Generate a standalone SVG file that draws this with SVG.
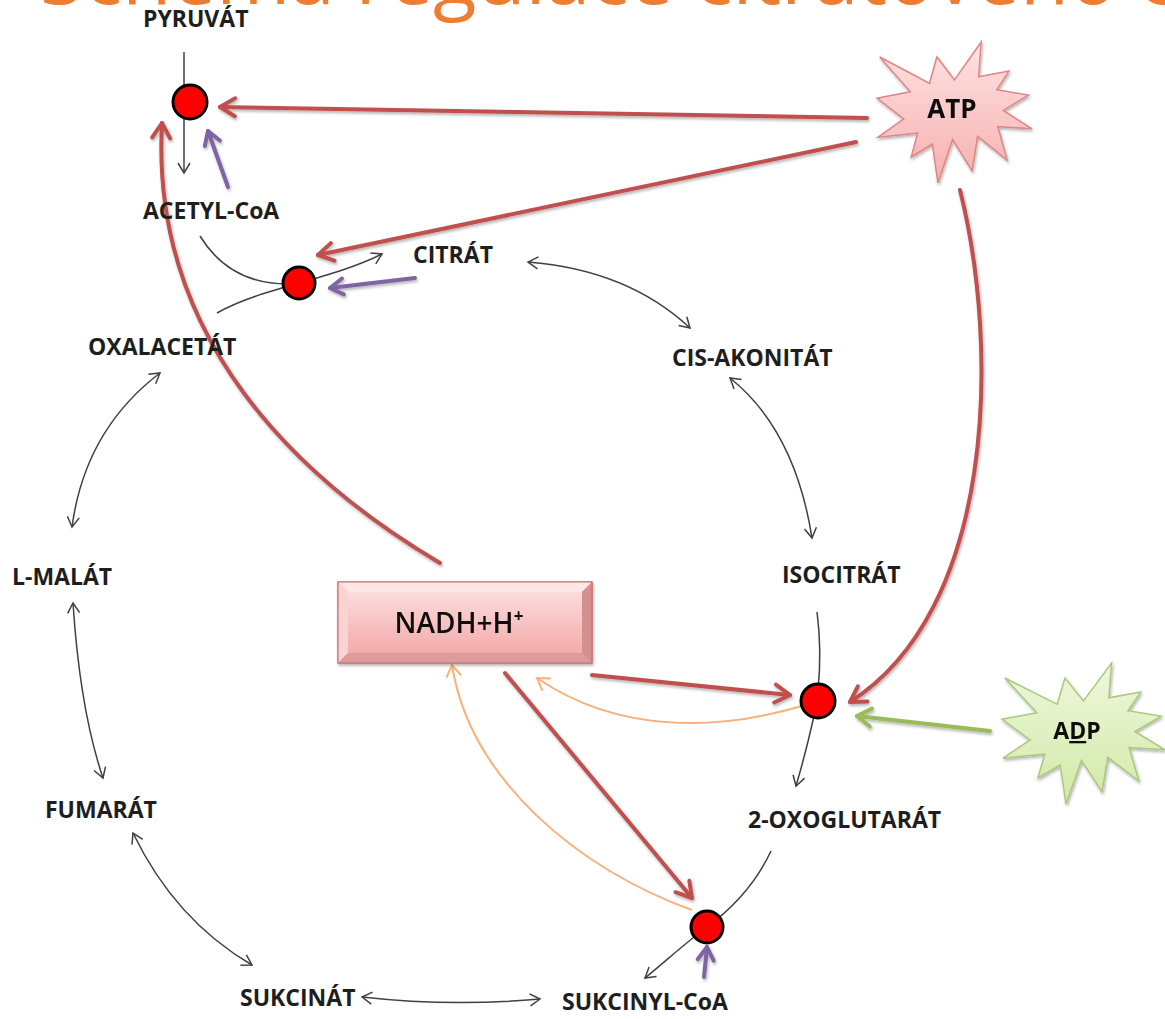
<svg xmlns="http://www.w3.org/2000/svg" width="1165" height="1019" viewBox="0 0 1165 1019">
<style>
.lbl{font-family:"Open Sans","Liberation Sans",sans-serif;font-weight:bold;font-size:23px;fill:#1e1e1e}
.thin{fill:none;stroke:#404040;stroke-width:1.5}
.red{fill:none;stroke:#C0504D;stroke-width:4;stroke-linecap:round}
.pur{fill:none;stroke:#8064A2;stroke-width:4;stroke-linecap:round}
.grn{fill:none;stroke:#9BBB59;stroke-width:4;stroke-linecap:round}
.org{fill:none;stroke:#F9B07A;stroke-width:2}
.enz{fill:#FF0000;stroke:#000;stroke-width:3}
</style>
<defs>
<marker id="ab" viewBox="-12 -8 14 16" refX="0" refY="0" markerWidth="14" markerHeight="16" markerUnits="userSpaceOnUse" orient="auto-start-reverse"><path d="M-10,-6 L0,0 L-10,6" fill="none" stroke="#404040" stroke-width="1.5"/></marker>
<marker id="ar" viewBox="-20 -13 24 26" refX="0" refY="0" markerWidth="24" markerHeight="26" markerUnits="userSpaceOnUse" orient="auto"><path d="M-15,-9 L0,0 L-15,9" fill="none" stroke="#C0504D" stroke-width="4" stroke-linecap="round" stroke-linejoin="round"/></marker>
<marker id="ap" viewBox="-20 -13 24 26" refX="0" refY="0" markerWidth="24" markerHeight="26" markerUnits="userSpaceOnUse" orient="auto"><path d="M-13,-8 L0,0 L-13,8" fill="none" stroke="#8064A2" stroke-width="4" stroke-linecap="round" stroke-linejoin="round"/></marker>
<marker id="ag" viewBox="-20 -13 24 26" refX="0" refY="0" markerWidth="24" markerHeight="26" markerUnits="userSpaceOnUse" orient="auto"><path d="M-14,-9 L0,0 L-14,9" fill="none" stroke="#9BBB59" stroke-width="4" stroke-linecap="round" stroke-linejoin="round"/></marker>
<marker id="ao" viewBox="-14 -9 16 18" refX="0" refY="0" markerWidth="16" markerHeight="18" markerUnits="userSpaceOnUse" orient="auto"><path d="M-11,-7 L0,0 L-11,7" fill="none" stroke="#F9B07A" stroke-width="2" stroke-linecap="round"/></marker>
<filter id="sh" x="-20%" y="-20%" width="140%" height="140%"><feDropShadow dx="1" dy="2" stdDeviation="1.5" flood-color="#000" flood-opacity="0.3"/></filter>
<linearGradient id="gAtp" x1="0" y1="0" x2="0" y2="1"><stop offset="0" stop-color="#FFE3E3"/><stop offset="1" stop-color="#F6AFAF"/></linearGradient>
<linearGradient id="gAdp" x1="0" y1="0" x2="0" y2="1"><stop offset="0" stop-color="#EEF7DC"/><stop offset="1" stop-color="#D2E9A8"/></linearGradient>
<linearGradient id="gBox" x1="0" y1="0" x2="0" y2="1"><stop offset="0" stop-color="#FCDCDC"/><stop offset="1" stop-color="#F3AAAA"/></linearGradient>
</defs>
<rect width="1165" height="1019" fill="#fff"/>
<text x="40" y="4" font-family="Open Sans, Liberation Sans, sans-serif" font-size="80" fill="#ED7D31">Schéma regulace citrátového cyklu</text>

<g id="connectors">
  <g id="pathway">
    <path class="thin" d="M184,52 L184,173" marker-end="url(#ab)"/>
    <path class="thin" d="M200,236 Q230,285 290,284"/>
    <path class="thin" d="M217,313 C260,288 330,280 382,254" marker-end="url(#ab)"/>
    <path class="thin" d="M528,262 Q628,270 690,328" marker-start="url(#ab)" marker-end="url(#ab)"/>
    <path class="thin" d="M730,378 Q795,430 812,538" marker-start="url(#ab)" marker-end="url(#ab)"/>
    <path class="thin" d="M817,612 Q822,650 818,690"/>
    <path class="thin" d="M814,716 Q806,752 796,786" marker-end="url(#ab)"/>
    <path class="thin" d="M771,851 C755,885 730,910 707,927 S665,962 645,978" marker-end="url(#ab)"/>
    <path class="thin" d="M362,997 Q450,1007 540,999" marker-start="url(#ab)" marker-end="url(#ab)"/>
    <path class="thin" d="M133,833 Q175,920 252,965" marker-start="url(#ab)" marker-end="url(#ab)"/>
    <path class="thin" d="M73,603 Q80,710 103,778" marker-start="url(#ab)" marker-end="url(#ab)"/>
    <path class="thin" d="M72,527 Q85,430 160,373" marker-start="url(#ab)" marker-end="url(#ab)"/>
  </g>
  <g id="inhibition" filter="url(#sh)">
    <path class="red" d="M867,118 L220,107" marker-end="url(#ar)"/>
    <path class="red" d="M856,142 L318,255" marker-end="url(#ar)"/>
    <path class="red" d="M960,190 C1000,350 995,610 850,702" marker-end="url(#ar)"/>
    <path class="red" d="M440,563 C300,480 150,340 162,123" marker-end="url(#ar)"/>
    <path class="red" d="M592,675 L790,695" marker-end="url(#ar)"/>
    <path class="red" d="M505,673 L692,898" marker-end="url(#ar)"/>
    <path class="pur" d="M228,187 L208,131" marker-end="url(#ap)"/>
    <path class="pur" d="M415,278 L330,288" marker-end="url(#ap)"/>
    <path class="pur" d="M704,977 L707,947" marker-end="url(#ap)"/>
    <path class="grn" d="M990,731 L857,716" marker-end="url(#ag)"/>
  </g>
  <g id="production">
    <path class="org" d="M802,706 C720,730 620,735 537,678" marker-end="url(#ao)"/>
    <path class="org" d="M692,910 C580,870 470,780 452,665" marker-end="url(#ao)"/>
  </g>
</g>

<g id="pyruvat"><text class="lbl" x="143" y="27">PYRUVÁT</text></g>
<g id="acetylcoa"><text class="lbl" x="143" y="219">ACETYL-CoA</text></g>
<g id="citrat"><text class="lbl" x="413" y="263">CITRÁT</text></g>
<g id="oxalacetat"><text class="lbl" x="88" y="355">OXALACETÁT</text></g>
<g id="cisakonitat"><text class="lbl" x="672" y="366">CIS-AKONITÁT</text></g>
<g id="isocitrat"><text class="lbl" x="782" y="583">ISOCITRÁT</text></g>
<g id="lmalat"><text class="lbl" x="12" y="585">L-MALÁT</text></g>
<g id="fumarat"><text class="lbl" x="45" y="818">FUMARÁT</text></g>
<g id="oxoglutarat"><text class="lbl" x="748" y="828">2-OXOGLUTARÁT</text></g>
<g id="sukcinat"><text class="lbl" x="240" y="1006">SUKCINÁT</text></g>
<g id="sukcinylcoa"><text class="lbl" x="562" y="1010">SUKCINYL-CoA</text></g>

<g id="enzyme-pdh"><circle class="enz" cx="190" cy="102" r="17"/></g>
<g id="enzyme-cs"><circle class="enz" cx="299" cy="283" r="16"/></g>
<g id="enzyme-idh"><circle class="enz" cx="818" cy="701" r="17"/></g>
<g id="enzyme-ogdh"><circle class="enz" cx="707" cy="927" r="16"/></g>

<g id="atp" filter="url(#sh)">
  <polygon points="954.5,79.9 981.2,42 978.6,76.8 1008.9,71.1 996.8,89.8 1028.4,95.1 1003.3,110.4 1032,128.8 997.8,126.5 1007.2,160.1 977.6,136.4 972.1,170.8 952.6,139.5 937.9,183 932.4,144 911.2,157 917.7,133 878,137.2 903.7,118.9 877,98.2 910.2,91.7 879.7,57 929.5,83.3 936.9,57" fill="url(#gAtp)" stroke="#E08585" stroke-width="1.5" stroke-linejoin="miter"/>
  <text x="952" y="118" text-anchor="middle" font-family="Open Sans, Liberation Sans, sans-serif" font-weight="bold" font-size="26" fill="#111">ATP</text>
</g>

<g id="adp" filter="url(#sh)">
  <polygon points="1083.5,700.9 1111.6,663 1108.8,697.8 1140.7,692.1 1128,710.8 1161.2,716.1 1134.9,731.4 1165,749.8 1129.1,747.5 1138.9,781.1 1107.8,757.4 1102,791.8 1081.5,760.5 1066,804 1060.2,765 1037.9,778 1044.8,754 1003,758.2 1030.1,739.9 1002,719.2 1036.9,712.7 1004.8,678 1057.2,704.3 1065,678" fill="url(#gAdp)" stroke="#A9C97A" stroke-width="1.5"/>
  <text x="1077" y="739" text-anchor="middle" font-family="Open Sans, Liberation Sans, sans-serif" font-weight="bold" font-size="23" fill="#111">A<tspan style="text-decoration:underline">D</tspan>P</text>
</g>

<g id="nadh" filter="url(#sh)">
  <rect x="338" y="582" width="254" height="81" fill="#EFA8A8" stroke="#C86868" stroke-width="1"/>
  <polygon points="338,582 592,582 582,592 348,592" fill="#FDE6E6"/>
  <polygon points="338,582 348,592 348,653 338,663" fill="#FAD3D3"/>
  <polygon points="592,582 592,663 582,653 582,592" fill="#D68F8F"/>
  <polygon points="338,663 592,663 582,653 348,653" fill="#DE9B9B"/>
  <rect x="348" y="592" width="234" height="61" fill="url(#gBox)"/>
  <rect x="338" y="582" width="254" height="81" fill="none" stroke="#C86868" stroke-width="1"/>
  <text x="459" y="633" text-anchor="middle" font-family="Open Sans, Liberation Sans, sans-serif" font-weight="600" font-size="28" fill="#111">NADH+H<tspan dy="-11" font-size="17" font-weight="bold">+</tspan></text>
</g>
</svg>
